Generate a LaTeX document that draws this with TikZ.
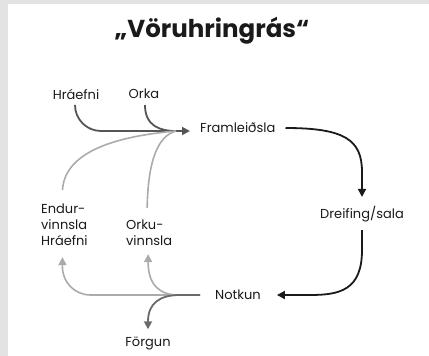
\documentclass[tikz,border=0pt]{standalone}
\usepackage{fontspec}
\setmainfont{Poppins}
\usetikzlibrary{arrows.meta}
\definecolor{frame}{HTML}{E3E3E3}
\definecolor{blk}{HTML}{1A1A1A}
\definecolor{dgray}{HTML}{555555}
\definecolor{mgray}{HTML}{6A6A6A}
\definecolor{lgray}{HTML}{ABABAB}
\tikzset{
  lbl/.style={font=\fontsize{13}{16}\selectfont, text=blk, inner sep=0pt},
  multi/.style={lbl, align=left, anchor=north west},
  blkarrow/.style={draw=blk, line width=1.8pt, -{Triangle[length=8pt,width=8pt]}},
  darkline/.style={draw=dgray, line width=1.8pt},
  darkarrow/.style={darkline, -{Triangle[length=8pt,width=8pt]}},
  graypath/.style={draw=lgray, line width=1.6pt},
  grayarrow/.style={graypath, -{Triangle[length=8pt,width=8pt]}},
  forgarrow/.style={draw=mgray, line width=1.8pt, -{Triangle[length=8pt,width=8pt]}},
}
\begin{document}
\begin{tikzpicture}[x=1pt,y=-1pt]
\useasboundingbox (0,0) rectangle (429,356);
\fill[frame] (0,0) rectangle (429,356);
\fill[white] (8,4) rectangle (429,356);

\node[font=\fontsize{24.5}{28}\selectfont\bfseries, text=blk, inner sep=0pt] (title) at (212,31) {„Vöruhringrás“};

\node[lbl] (hr) at (76,94) {Hráefni};
\node[lbl] (orka) at (144,94) {Orka};
\node[lbl, anchor=west] (fram) at (200,128) {Framleiðsla};
\node[lbl] (dreif) at (362,214) {Dreifing/sala};
\node[lbl, anchor=west] (notk) at (215,295) {Notkun};
\node[lbl] (forg) at (148,343) {Förgun};
\node[multi] (endur) at (41,204) {Endur-\\vinnsla\\Hráefni};
\node[multi] (orku) at (126,220) {Orku-\\vinnsla};

\coordinate (tipF) at (190,131);
\coordinate (jIn) at (176,131);
\coordinate (jOut) at (200,295);

% inputs to Framleidsla
\draw[darkarrow, rounded corners=26pt] ([xshift=-1pt,yshift=-6pt]hr.south) |- (tipF);
\draw[darkline] ([xshift=1pt,yshift=-6pt]orka.south) .. controls (145,126) and (160,131) .. (jIn);
\draw[graypath] ([xshift=-2pt,yshift=14pt]endur.north) .. controls (65,150) and (120,136) .. (jIn);
\draw[graypath] ([xshift=-2pt,yshift=12pt]orku.north) .. controls (148,160) and (158,136) .. (jIn);

% main cycle
\draw[blkarrow] ([xshift=10pt]fram.east) .. controls (345,128) and (362,140) .. (362,172) -- ([yshift=9pt]dreif.north);
\draw[blkarrow] ([yshift=-8pt]dreif.south) -- (362,250) .. controls (362,290) and (340,295) .. (310,295) -- ([xshift=16pt]notk.east);

% outputs from Notkun
\draw[grayarrow, rounded corners=28pt] (jOut) -| ([xshift=-2pt,yshift=-11pt]endur.south);
\draw[grayarrow] (178,295) .. controls (160,295) and (148,285) .. ([xshift=-1pt,yshift=-8pt]orku.south);
\draw[forgarrow] (jOut) -- (180,295) .. controls (160,295) and (148,303) .. ([yshift=7pt]forg.north);
\end{tikzpicture}
\end{document}
